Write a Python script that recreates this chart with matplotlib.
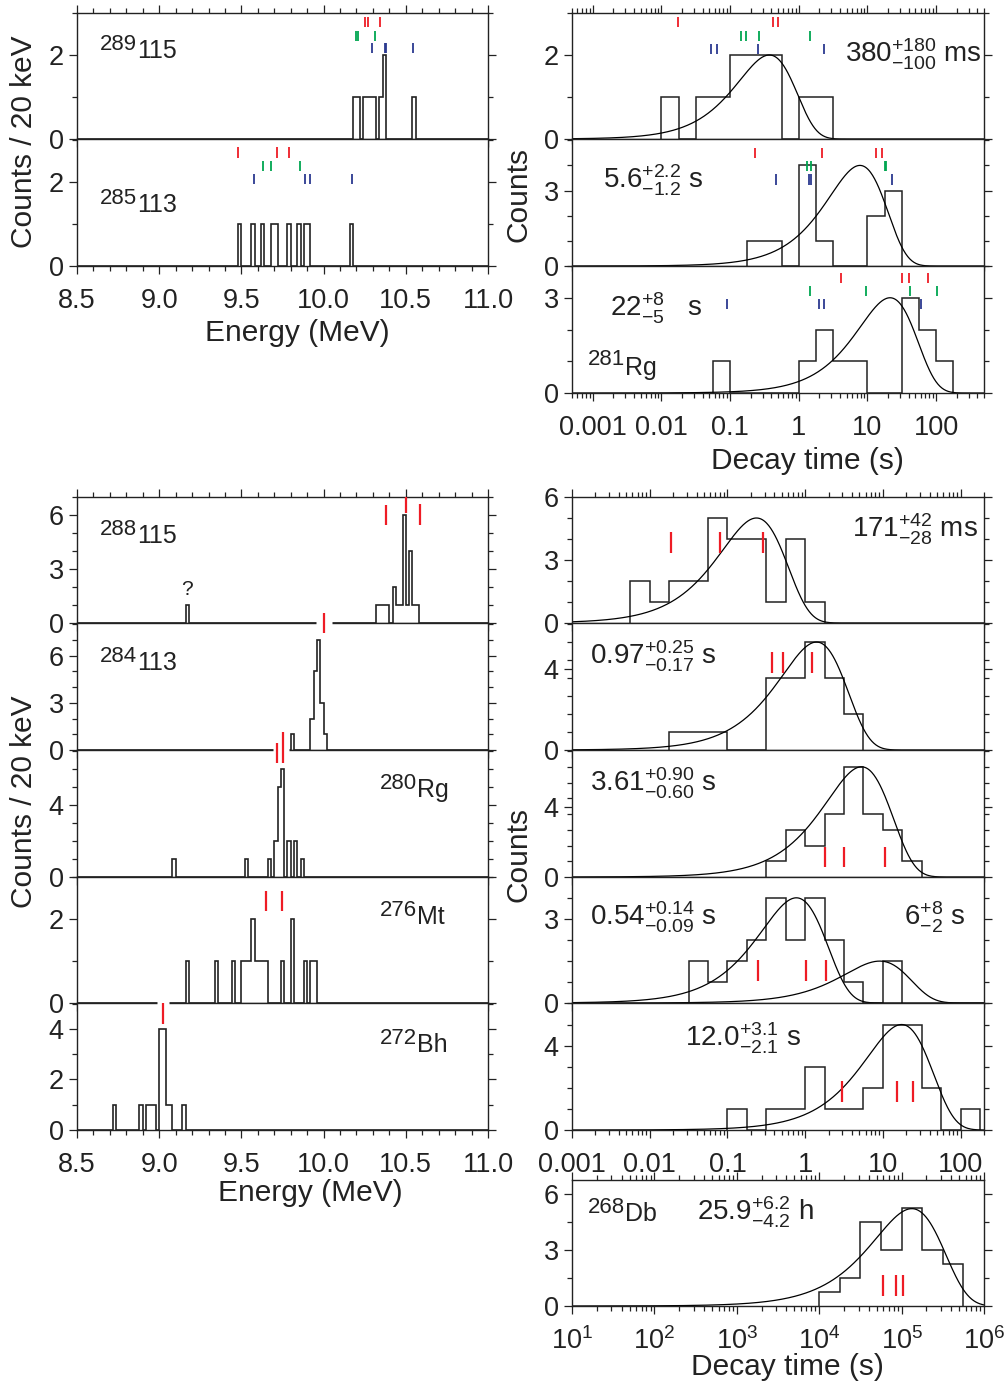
import numpy as np
import matplotlib
matplotlib.use("Agg")
from matplotlib import pyplot as plt
from matplotlib.ticker import MultipleLocator, FixedLocator, LogLocator, NullFormatter

plt.rcParams['font.family'] = ['Liberation Sans', 'DejaVu Sans']
plt.rcParams['mathtext.fontset'] = 'custom'
plt.rcParams['mathtext.rm'] = 'Liberation Sans'
plt.rcParams['mathtext.it'] = 'Liberation Sans:italic'
plt.rcParams['mathtext.bf'] = 'Liberation Sans:bold'
plt.rcParams['axes.unicode_minus'] = False

W, H = 1007, 1384
RED, GREEN, BLUE = '#ee1c25', '#00a650', '#2b3990'

# ---------------- data ----------------
# alpha energies (MeV), one entry per count, 20 keV bins
e_289_115 = [10.19, 10.21, 10.25, 10.27, 10.29, 10.31, 10.35, 10.37, 10.37, 10.55]
e_285_113 = [9.49, 9.57, 9.63, 9.69, 9.71, 9.79, 9.85, 9.89, 9.91, 10.17]
e_288_115 = [9.17, 10.33, 10.35, 10.37, 10.39, 10.43, 10.43, 10.45, 10.47,
             10.49, 10.49, 10.49, 10.49, 10.49, 10.49, 10.51,
             10.53, 10.53, 10.53, 10.53, 10.55, 10.57]
e_284_113 = [9.81, 9.93, 9.93, 9.95, 9.95, 9.95, 9.95, 9.95,
             9.97, 9.97, 9.97, 9.97, 9.97, 9.97, 9.97, 9.99, 9.99, 9.99, 10.01]
e_280_rg = [9.09, 9.53, 9.67, 9.71, 9.71, 9.73, 9.73, 9.73, 9.73, 9.73,
            9.75, 9.75, 9.75, 9.75, 9.75, 9.75, 9.79, 9.79, 9.83, 9.83, 9.87]
e_276_mt = [9.17, 9.35, 9.45, 9.51, 9.53, 9.55, 9.57, 9.57, 9.59, 9.61, 9.63,
            9.65, 9.75, 9.81, 9.81, 9.89, 9.93, 9.95]
e_272_bh = [8.73, 8.89, 8.93, 8.95, 8.97, 9.01, 9.01, 9.01, 9.01,
            9.03, 9.03, 9.03, 9.03, 9.05, 9.07, 9.15]

# decay-time histograms: log10 of first bin edge, heights of 0.25-decade bins
tr1_lo, tr1_h = -2.0, [1, 0, 1, 1, 2, 2, 2, 0, 1, 1]
tr2_lo, tr2_h = -0.75, [1, 1, 0, 4, 1, 0, 0, 2, 3]
tr3_lo, tr3_h = -1.25, [1, 0, 0, 0, 0, 1, 2, 1, 1, 0, 0, 3, 2, 1]
br1_lo, br1_h = -2.25, [2, 1, 2, 2, 5, 4, 4, 1, 4, 1]
br2_lo, br2_h = -1.75, [0.89, 0.89, 0.89, 0, 0, 3.56, 3.56, 5.33, 3.56, 1.78]
br3_lo, br3_h = -0.5, [0.9, 2.7, 1.8, 3.6, 6.3, 3.6, 2.7, 0.9]
br4_lo, br4_h = -1.5, [1.5, 0.75, 1.5, 2.25, 3.75, 2.25, 3.75, 2.25, 0.75, 0, 1.5]
br5_lo, br5_h = -1.0, [1, 0, 1, 1, 3, 1, 1, 2, 5, 5, 2, 0, 1]
br6_lo, br6_h = 4.0, [0.75, 1.5, 4.5, 3.0, 5.25, 3.0, 2.25]

# fitted curves: (time at maximum in s, height at maximum)
tr1_fit = (0.374, 2.0)
tr2_fit = (7.8, 4.0)
tr3_fit = (21.4, 3.0)
br1_fit = (0.236, 5.0)
br2_fit = (1.40, 5.33)
br3_fit = (5.3, 6.3)
br4_fit = (0.77, 3.74)
br4_fit2 = (9.1, 1.49)
br5_fit = (17.4, 5.0)
br6_fit = (1.33e5, 5.23)

# individual events (red / green / blue chains)
tl1_red, tl1_green, tl1_blue = [10.252, 10.268, 10.343], [10.195, 10.211, 10.311], [10.294, 10.372, 10.378, 10.542]
tl2_red, tl2_green, tl2_blue = [9.481, 9.717, 9.79], [9.631, 9.682, 9.856], [9.579, 9.885, 9.915, 10.175]
tr1_red, tr1_green, tr1_blue = [0.0174, 0.419, 0.496], [0.147, 0.170, 0.261, 1.44], [0.053, 0.0655, 0.252, 2.31]
tr2_red, tr2_green, tr2_blue = [0.233, 2.21, 13.4, 16.2], [1.32, 1.53, 18.2, 19.0], [0.469, 1.41, 1.53, 22.6]
tr3_red, tr3_green, tr3_blue = [4.2, 31.8, 39.8, 76.4], [1.48, 9.55, 42.1, 103], [0.0897, 1.95, 2.31, 60.3]
bl1_red = [10.382, 10.503, 10.588]
bl2_red = [10.0]
bl3_red = [9.718, 9.755]
bl4_red = [9.652, 9.745]
bl5_red = [9.021]
br1_red = [0.0188, 0.0805, 0.285]
br2_red = [0.379, 0.511, 1.21]
br3_red = [1.79, 3.15, 10.6]
br4_red = [0.248, 1.04, 1.83]
br5_red = [2.99, 15.3, 24.1]
br6_red = [5.98e4, 8.53e4, 1.05e5]

e_ticks = [8.5, 9.0, 9.5, 10.0, 10.5, 11.0]
t_ticks = [0.001, 0.01, 0.1, 1, 10, 100]
t_tick_labels = ['0.001', '0.01', '0.1', '1', '10', '100']

# ---------------- helpers ----------------
fig = plt.figure(figsize=(W / 100, H / 100), dpi=100)
INK = '#222222'


def add_ax(x0, y0, x1, y1):
    return fig.add_axes([x0 / W, 1 - y1 / H, (x1 - x0) / W, (y1 - y0) / H])


def style(ax, ymax, major, minor, top=False, xlabels=False):
    ax.set_ylim(0, ymax)
    ax.yaxis.set_major_locator(FixedLocator(major))
    ax.yaxis.set_minor_locator(MultipleLocator(minor))
    ax.tick_params(which='both', direction='out', top=top, right=True,
                   labelbottom=xlabels, width=0.9, labelsize=19.5, colors=INK)
    ax.tick_params(axis='x', which='major', pad=10)
    ax.tick_params(axis='y', which='major', pad=4)
    ax.tick_params(which='major', length=5.5)
    ax.tick_params(which='minor', length=3.5)
    for s in ax.spines.values():
        s.set_linewidth(1.0)
        s.set_color(INK)


def energy_ax(ax, energies):
    edges = np.linspace(8.5, 11.0, 126)
    counts, _ = np.histogram(energies, bins=edges)
    ax.stairs(counts, edges, color=INK, lw=1.2)
    ax.set_xlim(8.5, 11.0)
    ax.xaxis.set_major_locator(FixedLocator(e_ticks))
    ax.xaxis.set_minor_locator(MultipleLocator(0.1))
    ax.set_xticklabels(['%.1f' % v for v in e_ticks])


def time_ax(ax, lo, heights, fits, xlim):
    edges = 10 ** (lo + 0.25 * np.arange(len(heights) + 1))
    ax.stairs(heights, edges, color=INK, lw=1.1)
    t = np.logspace(np.log10(xlim[0]), np.log10(xlim[1]), 600)
    for tp, amp in fits:
        ax.plot(t, amp * (t / tp) * np.exp(1 - t / tp), color='black', lw=0.9)
    ax.set_xscale('log')
    ax.set_xlim(*xlim)
    ax.xaxis.set_minor_locator(LogLocator(base=10, subs=np.arange(2, 10), numticks=30))
    ax.xaxis.set_minor_formatter(NullFormatter())


def marks(ax, xs, y0, y1, color, lw=1.3):
    ax.vlines(xs, y0, y1, color=color, lw=lw, clip_on=False, zorder=6)


def gap(ax, e0, e1, y):
    ax.plot([e0, e1], [y, y], color='white', lw=3.5, solid_capstyle='butt',
            clip_on=False, zorder=5)


def nuclide(ax, x, y, mass, name, raise_=0.065):
    sup = ax.text(x, y + raise_, mass, transform=ax.transAxes, fontsize=16,
                  va='baseline', ha='left', color=INK)
    ax.annotate(name, xy=(1.0, y), xycoords=(sup, 'axes fraction'), fontsize=18,
                va='baseline', ha='left', color=INK)


def halflife(ax, x, y, s):
    ax.text(x, y, s, transform=ax.transAxes, fontsize=20, va='baseline',
            ha='left', color=INK)


LX0, LX1, RX0, RX1 = 77, 488, 572, 984

# ---------------- top left: energies ----------------
ax = add_ax(LX0, 13, LX1, 139)
energy_ax(ax, e_289_115)
style(ax, 3.0, [0, 2], 1, top=True)
marks(ax, tl1_red, 2.67, 2.91, RED)
marks(ax, tl1_green, 2.34, 2.58, GREEN)
marks(ax, tl1_blue, 2.05, 2.29, BLUE)
nuclide(ax, 0.056, 0.64, '289', '115')

ax = add_ax(LX0, 139, LX1, 266)
energy_ax(ax, e_285_113)
style(ax, 3.02, [0, 2], 1, xlabels=True)
marks(ax, tl2_red, 2.58, 2.82, RED)
marks(ax, tl2_green, 2.26, 2.50, GREEN)
marks(ax, tl2_blue, 1.95, 2.19, BLUE)
nuclide(ax, 0.056, 0.425, '285', '113')

# ---------------- top right: decay times ----------------
xl_top = (5e-4, 5e2)
ax = add_ax(RX0, 13, RX1, 139)
time_ax(ax, tr1_lo, tr1_h, [tr1_fit], xl_top)
style(ax, 3.0, [0, 2], 1, top=True)
ax.set_xticks(t_ticks)
marks(ax, tr1_red, 2.67, 2.91, RED)
marks(ax, tr1_green, 2.34, 2.58, GREEN)
marks(ax, tr1_blue, 2.03, 2.27, BLUE)
halflife(ax, 0.663, 0.61, r'$380^{+180}_{-100}$ ms')

ax = add_ax(RX0, 139, RX1, 266)
time_ax(ax, tr2_lo, tr2_h, [tr2_fit], xl_top)
style(ax, 5.05, [0, 3], 1)
ax.set_xticks(t_ticks)
marks(ax, tr2_red, 4.29, 4.69, RED)
marks(ax, tr2_green, 3.76, 4.16, GREEN)
marks(ax, tr2_blue, 3.24, 3.64, BLUE)
halflife(ax, 0.075, 0.614, r'$5.6^{+2.2}_{-1.2}$ s')

ax = add_ax(RX0, 266, RX1, 393)
time_ax(ax, tr3_lo, tr3_h, [tr3_fit], xl_top)
style(ax, 4.0, [0, 3], 1, xlabels=True)
ax.set_xticks(t_ticks, labels=t_tick_labels)
marks(ax, tr3_red, 3.47, 3.79, RED)
marks(ax, tr3_green, 3.04, 3.36, GREEN)
marks(ax, tr3_blue, 2.64, 2.96, BLUE)
halflife(ax, 0.092, 0.606, r'$22^{+8}_{-5}$   s')
nuclide(ax, 0.039, 0.142, '281', 'Rg', raise_=0.08)

# ---------------- bottom left: energies ----------------
ax = add_ax(LX0, 497, LX1, 623)
energy_ax(ax, e_288_115)
style(ax, 7.0, [0, 3, 6], 1, top=True)
marks(ax, bl1_red, [5.45, 6.1, 5.45], [6.55, 7.0, 6.6], RED, lw=1.6)
ax.text(9.17, 1.55, '?', fontsize=15, ha='center', va='baseline', color=INK)
nuclide(ax, 0.056, 0.637, '288', '115')

ax = add_ax(LX0, 623, LX1, 750)
energy_ax(ax, e_284_113)
style(ax, 8.08, [0, 3, 6], 1)
gap(ax, 9.954, 10.049, 8.08)
marks(ax, bl2_red, 7.43, 8.7, RED, lw=1.6)
nuclide(ax, 0.056, 0.63, '284', '113')

ax = add_ax(LX0, 750, LX1, 877)
energy_ax(ax, e_280_rg)
style(ax, 7.05, [0, 4], 1)
gap(ax, 9.69, 9.79, 7.05)
marks(ax, bl3_red, [6.33, 6.33], [7.44, 8.06], RED, lw=1.6)
nuclide(ax, 0.737, 0.63, '280', 'Rg')

ax = add_ax(LX0, 877, LX1, 1003)
energy_ax(ax, e_276_mt)
style(ax, 3.0, [0, 2], 1)
marks(ax, bl4_red, 2.19, 2.67, RED, lw=1.6)
nuclide(ax, 0.737, 0.627, '276', 'Mt')

ax = add_ax(LX0, 1003, LX1, 1130)
energy_ax(ax, e_272_bh)
style(ax, 5.02, [0, 2, 4], 1, xlabels=True)
gap(ax, 8.985, 9.062, 5.02)
marks(ax, bl5_red, 4.19, 5.02, RED, lw=1.6)
nuclide(ax, 0.737, 0.615, '272', 'Bh')

# ---------------- bottom right: decay times ----------------
xl_bot = (1e-3, 200)
ax = add_ax(RX0, 497, RX1, 623)
time_ax(ax, br1_lo, br1_h, [br1_fit], xl_bot)
style(ax, 6.0, [0, 3, 6], 1, top=True)
ax.set_xticks(t_ticks)
marks(ax, br1_red, 3.33, 4.33, RED, lw=1.6)
halflife(ax, 0.68, 0.675, r'$171^{+42}_{-28}$ ms')

ax = add_ax(RX0, 623, RX1, 750)
time_ax(ax, br2_lo, br2_h, [br2_fit], xl_bot)
style(ax, 6.27, [0, 4], 0.889)
ax.set_xticks(t_ticks)
marks(ax, br2_red, 3.8, 4.84, RED, lw=1.6)
halflife(ax, 0.044, 0.67, r'$0.97^{+0.25}_{-0.17}$ s')

ax = add_ax(RX0, 750, RX1, 877)
time_ax(ax, br3_lo, br3_h, [br3_fit], xl_bot)
style(ax, 7.26, [0, 4], 0.9)
ax.set_xticks(t_ticks)
marks(ax, br3_red, 0.57, 1.71, RED, lw=1.6)
halflife(ax, 0.044, 0.67, r'$3.61^{+0.90}_{-0.60}$ s')

ax = add_ax(RX0, 877, RX1, 1003)
time_ax(ax, br4_lo, br4_h, [br4_fit, br4_fit2], xl_bot)
style(ax, 4.48, [0, 3], 0.75)
ax.set_xticks(t_ticks)
marks(ax, br4_red, 0.78, 1.53, RED, lw=1.6)
halflife(ax, 0.044, 0.613, r'$0.54^{+0.14}_{-0.09}$ s')
halflife(ax, 0.806, 0.613, r'$6^{+8}_{-2}$ s')

ax = add_ax(RX0, 1003, RX1, 1130)
time_ax(ax, br5_lo, br5_h, [br5_fit], xl_bot)
style(ax, 6.02, [0, 4], 1, xlabels=True)
ax.set_xticks(t_ticks, labels=t_tick_labels)
marks(ax, br5_red, 1.33, 2.33, RED, lw=1.6)
halflife(ax, 0.274, 0.655, r'$12.0^{+3.1}_{-2.1}$ s')

ax = add_ax(RX0, 1180, RX1, 1306)
time_ax(ax, br6_lo, br6_h, [br6_fit], (10, 1e6))
style(ax, 6.77, [0, 3, 6], 1.5, top=True, xlabels=True)
ax.xaxis.set_major_locator(LogLocator(base=10, numticks=10))
marks(ax, br6_red, 0.54, 1.67, RED, lw=1.6)
nuclide(ax, 0.039, 0.675, '268', 'Db')
halflife(ax, 0.303, 0.675, r'$25.9^{+6.2}_{-4.2}$ h')

# ---------------- axis titles ----------------
def ftext(x, y, s, rot=0):
    fig.text(x / W, 1 - y / H, s, fontsize=21.5, rotation=rot, ha='center',
             va='center', color=INK)


ftext(24, 142, 'Counts / 20 keV', 90)
ftext(24, 802, 'Counts / 20 keV', 90)
ftext(519, 194, 'Counts', 90)
ftext(519, 854, 'Counts', 90)
ftext(297, 333, 'Energy (MeV)')
ftext(310, 1193, 'Energy (MeV)')
ftext(807, 461, 'Decay time (s)')
ftext(787, 1367, 'Decay time (s)')

fig.savefig('out.png', dpi=100)
